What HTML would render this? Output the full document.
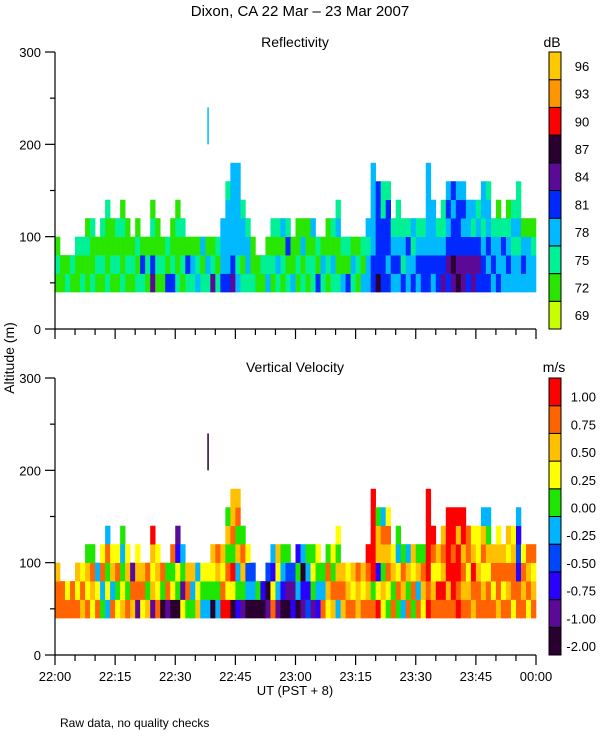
<!DOCTYPE html>
<html><head><meta charset="utf-8">
<style>
html,body{margin:0;padding:0;background:#fff;}
svg{display:block;font-family:"Liberation Sans",sans-serif;}
</style></head>
<body>
<svg id="chart" width="600" height="750" viewBox="0 0 600 750" xmlns="http://www.w3.org/2000/svg">
<text x="300" y="16" font-size="15" text-anchor="middle">Dixon, CA 22 Mar – 23 Mar 2007</text>
<text x="295" y="47" font-size="14" text-anchor="middle">Reflectivity</text>
<text x="552" y="47" font-size="14" text-anchor="middle">dB</text>
<text x="295" y="372" font-size="14" text-anchor="middle">Vertical Velocity</text>
<text x="554" y="372" font-size="14" text-anchor="middle">m/s</text>
<text x="0" y="0" font-size="14" text-anchor="middle" transform="translate(14,358) rotate(-90)">Altitude (m)</text>
<text x="295" y="695" font-size="13" text-anchor="middle">UT  (PST + 8)</text>
<text x="60" y="727" font-size="12">Raw data, no quality checks</text>
<g id="g"></g>
</svg>
<script>
// ---- data ----
const colMinutes = 1.25;
const baseAlt = 40, cellAlt = 20;
const reflCodes = ["121","11","21","12","112","212","1121","2112","121","1212","21112","1211","1212","21121","1211","121","2121","241","121","54121","1211","121","412","4211","21121","1212","241","231","321","213","231","521","212","4333","433332","5433333","3233333","21332","2332","211","11","12","321","1212","2312","1213","2142","311","1211","2131","1211","2213","412","231","1211","2312","21132","312","412","231","121","312","3323","4433333","644444","444422","434442","3432","34322","4232","3342","4323","3432","4432","4433333","34333","4432","54322","454343","564434","654443","554343","45433","55423","45432","443233","434332","3432","43321","3342","34321","33232","332322","3431","3331","3321"];
const velCodes = ["887","88","86","88","867","786","8675","6785","864","5486","46584","8476","6586","76545","8576","781","1876","687","758","17679","8676","058","185","0658","05621","6154","587","547","764","456","456","0567","4578","9867","968575","0695877","2547587","15785","0436","043","05","02","103","8624","1467","0245","0135","213","0452","1204","3245","1565","2456","845","6785","7856","48756","787","876","867","778","867","8789","8599999","962775","675784","568786","8576","58645","4785","8574","5867","8475","6785","9899999","87689","8967","89787","879999","899899","989979","878799","87688","78976","88766","876874","886754","8687","78876","8687","87867","68876","882324","8786","6878","8768"];
const spikeMinute = 38, spikeBottom = 200, spikeTop = 240;
const spikeReflCode = 3, spikeVelCode = 0;
const reflColors = ["#c8ff00","#28e600","#00f096","#00b9ff","#0028ff","#5a0a96","#2a0030","#ff0000","#ff9600","#ffc800"];
const reflLabels = ["69","72","75","78","81","84","87","90","93","96"];
const velColors = ["#2a0030","#5a0a96","#2a00ff","#0046ff","#00b4ff","#1ee600","#ffff00","#ffc000","#ff6400","#ff0000"];
const velLabels = ["-2.00","-1.00","-0.75","-0.50","-0.25","0.00","0.25","0.50","0.75","1.00"];
const timeLabels = ["22:00","22:15","22:30","22:45","23:00","23:15","23:30","23:45","00:00"];
const altTicks = [0,100,200,300];

// ---- layout ----
const X0 = 55, X1 = 536, TOTAL = 120;
const panels = [{y0:329,y1:52,codes:reflCodes,colors:reflColors,labels:reflLabels,spike:spikeReflCode,name:"reflectivity",labelMode:"mid"},
                {y0:655,y1:378,codes:velCodes,colors:velColors,labels:velLabels,spike:spikeVelCode,name:"velocity",labelMode:"bottom"}];
const NS="http://www.w3.org/2000/svg";
const g=document.getElementById('g');
function el(t,a,p){const e=document.createElementNS(NS,t);for(const k in a)e.setAttribute(k,a[k]);(p||g).appendChild(e);return e;}
const xs=m=>X0+(X1-X0)*m/TOTAL;

panels.forEach(P=>{
  const ys=a=>P.y0+(P.y1-P.y0)*a/300;
  const grp=el('g',{});
  
  
  P.codes.forEach((s,i)=>{
    const xa=xs(i*colMinutes), xb=xs((i+1)*colMinutes);
    for(let j=0;j<s.length;j++){
      const a0=baseAlt+j*cellAlt, a1=a0+cellAlt;
      const r=el('rect',{x:xa,y:ys(a1),width:xb-xa+0.3,height:ys(a0)-ys(a1)+0.3,fill:P.colors[+s[j]]},grp);
      
      
    }
  });
  const sp=el('rect',{x:xs(spikeMinute),y:ys(spikeTop),width:1.5,height:ys(spikeBottom)-ys(spikeTop),fill:P.colors[P.spike]},grp);
  
  
  const ax=el('g',{stroke:'#000','stroke-width':1.2,fill:'none'});
  
  
  el('line',{x1:X0,y1:P.y0,x2:X0,y2:P.y1},ax);
  el('line',{x1:X0,y1:P.y0,x2:X1,y2:P.y0},ax);
  for(let a=0;a<=300;a+=50){const major=a%100===0;el('line',{x1:X0-(major?10:5),y1:ys(a),x2:X0,y2:ys(a)},ax);}
  altTicks.forEach(a=>{const t=el('text',{x:X0-14,y:ys(a)+5,'font-size':13,'text-anchor':'end'});t.textContent=a;
    
    });
  for(let m=0;m<=TOTAL;m+=5){const major=m%15===0;el('line',{x1:xs(m),y1:P.y0,x2:xs(m),y2:P.y0+(major?10:6)},ax);}
  const cb=el('g',{});
  
  
  const n=P.colors.length, h=(P.y0-P.y1)/n;
  P.colors.forEach((c,k)=>{
    const yb=P.y0-k*h;
    el('rect',{x:549,y:yb-h,width:12,height:h,fill:c,stroke:'#000','stroke-width':1},cb);
    const t=el('text',{x:P.name==='velocity'?596:582,y:P.labelMode==='mid'?yb-h/2+5:yb-4,'font-size':13,'text-anchor':P.name==='velocity'?'end':'middle'},cb);
    t.textContent=P.labels[k];
    
    
  });
});
timeLabels.forEach((l,k)=>{const t=el('text',{x:xs(k*15),y:681,'font-size':13,'text-anchor':'middle'});t.textContent=l;
  
  });
</script>
</body></html>
